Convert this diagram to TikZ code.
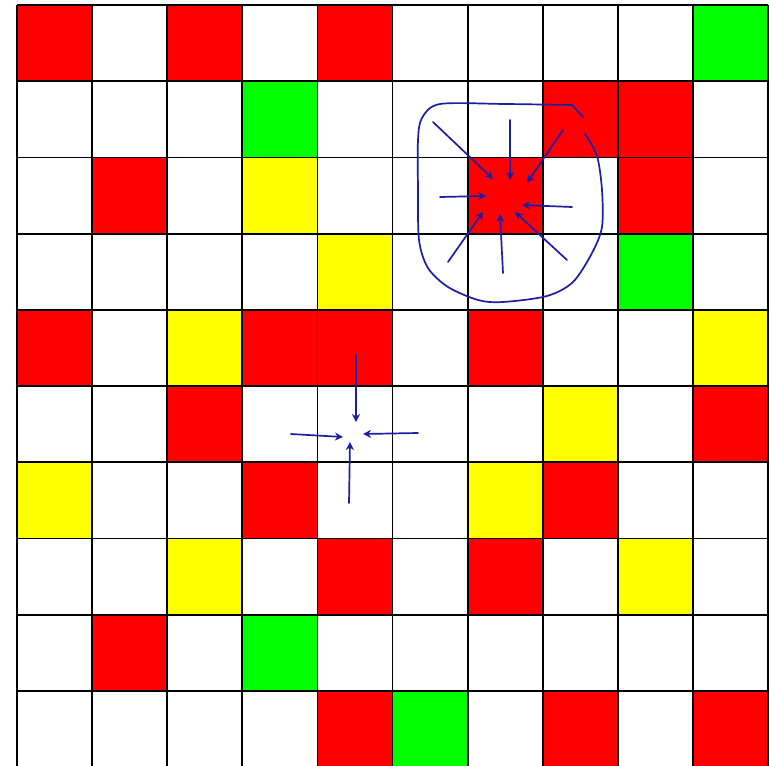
\documentclass[tikz,border=0pt]{standalone}
\usetikzlibrary{arrows.meta}
\definecolor{cellred}{RGB}{255,0,0}
\definecolor{cellgreen}{RGB}{0,255,0}
\definecolor{cellyellow}{RGB}{255,255,0}
\definecolor{pen}{RGB}{30,30,165}
\tikzset{
  gridline/.style={black,line width=1.8pt},
  penline/.style={pen,line width=1.7pt,line cap=round,line join=round},
  penarrow/.style={penline,-{Stealth[length=8pt,width=8pt,inset=2.5pt]}},
}
\begin{document}
\begin{tikzpicture}[x=1pt,y=-1pt]
\useasboundingbox (0,0) rectangle (769,766);
\fill[white] (0,0) rectangle (769,766);
\begin{scope}
\clip (0,0) rectangle (769,766);
% coloured cells
\foreach \c/\r/\col in {0/0/cellred,2/0/cellred,4/0/cellred,7/1/cellred,8/1/cellred,
  1/2/cellred,6/2/cellred,8/2/cellred,0/4/cellred,3/4/cellred,4/4/cellred,6/4/cellred,
  2/5/cellred,9/5/cellred,3/6/cellred,7/6/cellred,4/7/cellred,6/7/cellred,1/8/cellred,
  4/9/cellred,7/9/cellred,9/9/cellred,
  9/0/cellgreen,3/1/cellgreen,8/3/cellgreen,3/8/cellgreen,5/9/cellgreen,
  3/2/cellyellow,4/3/cellyellow,2/4/cellyellow,9/4/cellyellow,7/5/cellyellow,
  0/6/cellyellow,6/6/cellyellow,2/7/cellyellow,8/7/cellyellow}
{
  \fill[\col] ({17+75.1*\c},{5+76.2*\r}) rectangle ({17+75.1*(\c+1)},{5+76.2*(\r+1)});
}
% grid lines
\foreach \i in {0,...,10} {
  \draw[gridline] ({17+75.1*\i},5) -- ({17+75.1*\i},767);
  \draw[gridline] (17,{5+76.2*\i}) -- (768,{5+76.2*\i});
}
\end{scope}
% freehand loop around the red cell
\draw[penline] plot[smooth,tension=0.5] coordinates {
  (585,134) (597,156) (602,190) (602,227) (592,253) (573,282) (547,296)
  (503,302) (478,300) (448,287) (428,268) (419,240) (418,190) (418,140)
  (422,118) (440,104) (505,104) (572,105)};
\draw[penline] (572,105) -- (583,117);
% arrows pointing into the red cell
\coordinate (a1s) at (433,122); \coordinate (a1e) at (493,179);
\coordinate (a2s) at (510,120); \coordinate (a2e) at (510,180);
\coordinate (a3s) at (563,130); \coordinate (a3e) at (527,183);
\coordinate (a4s) at (440,197); \coordinate (a4e) at (486,196);
\coordinate (a5s) at (572,207); \coordinate (a5e) at (522,205);
\coordinate (a6s) at (448,262); \coordinate (a6e) at (483,212);
\coordinate (a7s) at (503,273); \coordinate (a7e) at (500,214);
\coordinate (a8s) at (567,260); \coordinate (a8e) at (515,212);
\foreach \k in {1,...,8} { \draw[penarrow] (a\k s) -- (a\k e); }
% arrows pointing to the empty cell
\coordinate (b1s) at (356,355); \coordinate (b1e) at (356,422);
\coordinate (b2s) at (291,434); \coordinate (b2e) at (343,437);
\coordinate (b3s) at (418,433); \coordinate (b3e) at (363,434);
\coordinate (b4s) at (349,503); \coordinate (b4e) at (350,442);
\foreach \k in {1,...,4} { \draw[penarrow] (b\k s) -- (b\k e); }
\end{tikzpicture}
\end{document}
